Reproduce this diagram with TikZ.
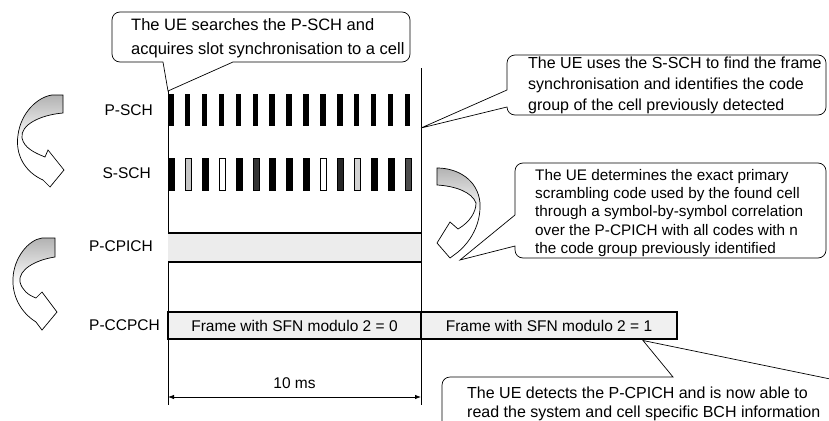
\documentclass[tikz,border=0pt]{standalone}
\usepackage{fontspec}
\setmainfont{Liberation Sans}
\usetikzlibrary{arrows.meta}
\begin{document}
\begin{tikzpicture}[x=1pt,y=-1pt,
  lab/.style={font=\fontsize{15.5}{18}\selectfont, anchor=east, inner sep=0pt},
  ctext/.style={align=left, anchor=north west, inner sep=0pt},
  co/.style={draw=black, line width=0.7pt, fill=white},
  frm/.style={draw=black, line width=1.6pt, fill=gray!12, minimum height=27pt, inner sep=0pt, font=\fontsize{15.5}{18}\selectfont},
  curvarrow/.style={draw=black, line width=0.7pt, top color=gray!60, bottom color=white, middle color=white},
  vline/.style={draw=black, line width=0.8pt},
]
\clip (0,0) rectangle (829,420);
\fill[white] (0,0) rectangle (829,420);

% ---- time axis lines ----
\coordinate (l1) at (168,90);  \coordinate (l2) at (168,405);
\coordinate (r1) at (421,68);  \coordinate (r2) at (421,405);
\draw[vline] (l1) -- (l2);
\draw[vline] (r1) -- (r2);

% ---- channel labels ----
\node[lab] (psch)  at (153,110) {P-SCH};
\node[lab] (ssch)  at (151,173) {S-SCH};
\node[lab] (pcpich) at (153,246) {P-CPICH};
\node[lab] (pccpch) at (160,325.5) {P-CCPCH};

% ---- P-SCH bursts ----
\foreach \i in {0,...,14}
  \fill[black] ({168+\i*16.9},94) rectangle ++(5.5,32);

% ---- S-SCH bursts ----
\foreach \i/\c in {0/black,1/gray!45,2/black,3/white,4/black,5/black!80,6/black,7/black,8/black,9/white,10/black!85,11/gray!35,12/black,13/black,14/black!70}
  \filldraw[fill=\c, draw=black, line width=0.6pt] ({168.3+\i*16.9},158) rectangle ++(6,32);

% ---- P-CPICH band ----
\fill[gray!15] (168,233) rectangle (421,262);
\draw[line width=1.6pt] (168,233) -- (421,233);
\draw[line width=1.6pt] (168,262) -- (421,262);

% ---- P-CCPCH frames ----
\node[frm, minimum width=253pt] (f0) at (294.5,325.5) {Frame with SFN modulo 2 = 0};
\node[frm, minimum width=256pt] (f1) at (549,325.5) {Frame with SFN modulo 2 = 1};

% ---- 10 ms dimension ----
\coordinate (d0) at (168,397); \coordinate (d1) at (421,397);
\draw[{Latex[length=6pt,width=4.5pt]}-{Latex[length=6pt,width=4.5pt]}, line width=0.8pt] (d0) -- (d1);
\node[font=\fontsize{15.5}{18}\selectfont, inner sep=0pt] (tms) at (294.5,383) {10 ms};

% ---- curved arrows ----
\path[curvarrow] (63,95) -- (63,113) .. controls (40,115) and (20,125) .. (22,138)
  .. controls (24,148) and (35,153) .. (45,157) -- (48,150) -- (64,170) -- (50,187) -- (43,180)
  .. controls (25,172) and (15,155) .. (18,135) .. controls (21,112) and (38,97) .. (52,95) -- cycle;
\path[curvarrow] (55,238) -- (55,257) .. controls (35,260) and (18,270) .. (20,282)
  .. controls (22,290) and (28,295) .. (36,298) -- (42,292) -- (57,312) -- (42,330) -- (36,322)
  .. controls (20,312) and (12,295) .. (13,278) .. controls (14,258) and (28,240) .. (42,238) -- cycle;
\path[curvarrow] (437,168) .. controls (458,168) and (478,180) .. (480,203)
  .. controls (481,225) and (470,242) .. (458,252) -- (450,258) -- (437,243) -- (450,222) -- (458,229)
  .. controls (470,222) and (476,212) .. (476,203) .. controls (472,192) and (455,186) .. (437,185) -- cycle;

% ---- callout 1 ----
\coordinate (t1) at (168,91);
\draw[co] (163,62) -- (t1) -- (233,62) [rounded corners=8pt] -- (410,62) -- (410,12) -- (112,12) -- (112,62) -- (163,62);
\node[ctext, font=\fontsize{16.5}{24}\selectfont] (c1) at (131,18)
  {The UE searches the P-SCH and\\acquires slot synchronisation to a cell};

% ---- callout 2 ----
\coordinate (t2) at (421,128);
\draw[co] (507,90) -- (t2) -- (507,107) [rounded corners=8pt] -- (507,115) -- (826,115) -- (826,55) -- (507,55) -- (507,90);
\node[ctext, font=\fontsize{16}{21}\selectfont] (c2) at (528,56.5)
  {The UE uses the S-SCH to find the frame\\synchronisation and identifies the code\\group of the cell previously detected};

% ---- callout 3 ----
\coordinate (t3) at (460,260);
\draw[co] (515,215) -- (t3) -- (515,246) [rounded corners=8pt] -- (515,258) -- (826,258) -- (826,163) -- (515,163) -- (515,215);
\node[ctext, font=\fontsize{15.3}{18.3}\selectfont] (c3) at (535,169)
  {The UE determines the exact primary\\scrambling code used by the found cell\\through a symbol-by-symbol correlation\\over the P-CPICH with all codes with n\\the code group previously identified};

% ---- callout 4 ----
\coordinate (t4) at (643,340.5);
\draw[co] (840,381) -- (t4) -- (673,377) [rounded corners=8pt] -- (442,377) -- (442,430);
\node[ctext, font=\fontsize{16}{19}\selectfont] (c4) at (467,386.5)
  {The UE detects the P-CPICH and is now able to\\read the system and cell specific BCH information};
\end{tikzpicture}
\end{document}
